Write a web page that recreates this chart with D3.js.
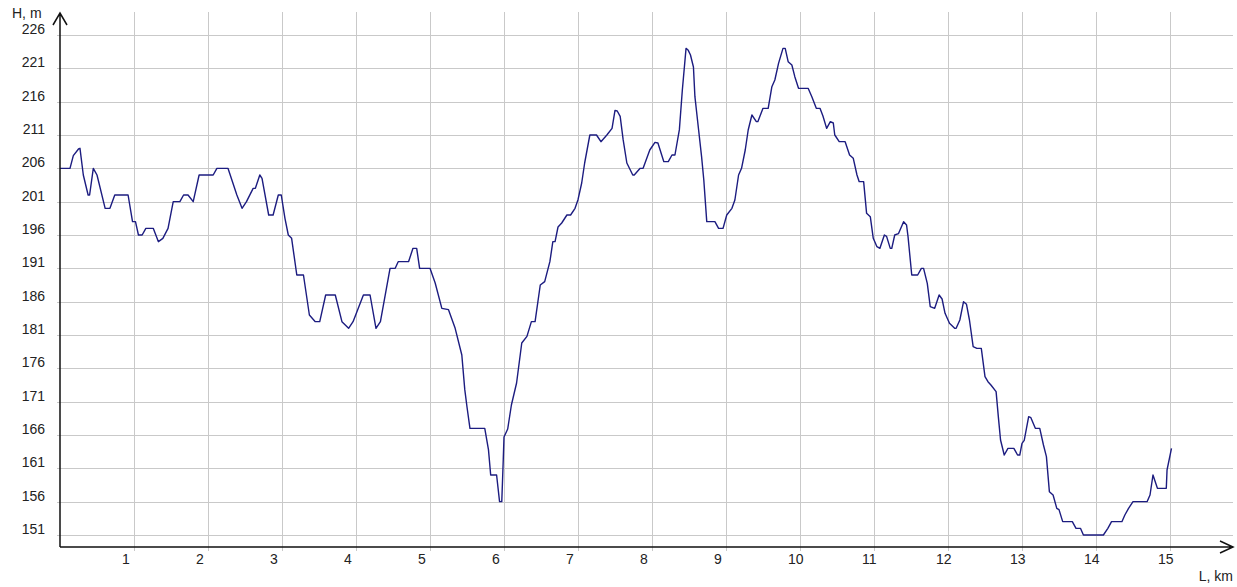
<!DOCTYPE html>
<html lang="en">
<head>
<meta charset="UTF-8">
<title>Elevation profile</title>
<script src="https://cdn.jsdelivr.net/npm/d3@7"></script>
<style>
    body { margin: 0; background: #fff; }
    text { font-family: "Liberation Sans", Arial, sans-serif; font-size: 14px; fill: #222; }
</style>
</head>
<body>
<script>
    // profile: distance (km) and height (m)
    const distKm = [
        0, 0.135, 0.18, 0.25, 0.27, 0.315, 0.38, 0.4, 0.45, 0.5, 0.61, 0.675, 0.74, 0.92, 0.98, 1.02, 1.06, 1.11,
        1.16, 1.26, 1.33, 1.39, 1.46, 1.53, 1.62, 1.67, 1.73, 1.8, 1.88, 2.07, 2.12, 2.27, 2.39, 2.46, 2.52, 2.61,
        2.64, 2.7, 2.73, 2.82, 2.88, 2.95, 2.99, 3.04, 3.085, 3.13, 3.2, 3.29, 3.37, 3.45, 3.51, 3.59, 3.72, 3.81,
        3.9, 3.96, 4.1, 4.19, 4.27, 4.33, 4.46, 4.53, 4.57, 4.71, 4.77, 4.82, 4.86, 5.0, 5.07, 5.16, 5.25, 5.34,
        5.43, 5.47, 5.5, 5.54, 5.74, 5.79, 5.82, 5.9, 5.94, 5.97, 5.99, 6.0, 6.05, 6.1, 6.17, 6.24, 6.31, 6.37,
        6.42, 6.49, 6.55, 6.62, 6.66, 6.69, 6.73, 6.78, 6.85, 6.9, 6.96, 7.0, 7.05, 7.09, 7.16, 7.25, 7.31, 7.39,
        7.46, 7.5, 7.53, 7.57, 7.61, 7.66, 7.74, 7.76, 7.84, 7.88, 7.97, 8.04, 8.08, 8.16, 8.22, 8.27, 8.31, 8.37,
        8.41, 8.46, 8.49, 8.52, 8.56, 8.58, 8.63, 8.67, 8.7, 8.74, 8.85, 8.9, 8.96, 9.01, 9.08, 9.12, 9.17, 9.21,
        9.26, 9.3, 9.35, 9.41, 9.43, 9.5, 9.57, 9.62, 9.66, 9.71, 9.77, 9.8, 9.84, 9.89, 9.93, 9.98, 10.11, 10.16,
        10.22, 10.27, 10.31, 10.36, 10.41, 10.45, 10.47, 10.53, 10.61, 10.67, 10.72, 10.77, 10.8, 10.86, 10.9,
        10.95, 10.99, 11.04, 11.08, 11.14, 11.17, 11.22, 11.24, 11.28, 11.33, 11.4, 11.44, 11.46, 11.51, 11.59,
        11.64, 11.67, 11.72, 11.76, 11.82, 11.88, 11.92, 11.96, 12.02, 12.09, 12.11, 12.16, 12.21, 12.25, 12.29,
        12.34, 12.39, 12.45, 12.5, 12.54, 12.58, 12.65, 12.68, 12.71, 12.76, 12.81, 12.89, 12.94, 12.97, 13.0,
        13.03, 13.09, 13.12, 13.18, 13.24, 13.29, 13.33, 13.37, 13.42, 13.47, 13.5, 13.55, 13.68, 13.73, 13.79,
        13.83, 14.1, 14.16, 14.21, 14.35, 14.39, 14.44, 14.5, 14.69, 14.73, 14.77, 14.83, 14.95, 14.96, 15.02
    ];
    const heightM = [
        206, 206, 207.9, 208.9, 209, 205, 202, 202, 206, 205, 200, 200, 202, 202, 198, 198, 196, 196,
        197, 197, 195, 195.5, 197, 201, 201, 202, 202, 201, 205, 205, 206, 206, 202, 200, 201, 203,
        203, 205, 204.5, 199, 199, 202, 202, 198.5, 196, 195.5, 190, 190, 184, 183, 183, 187, 187, 183,
        182, 183, 187, 187, 182, 183, 191, 191, 192, 192, 194, 194, 191, 191, 188.8, 185, 184.8, 182,
        178, 172.8, 170.2, 167, 167, 163.8, 160, 160, 156, 156, 162.3, 165.7, 166.9, 170.5, 173.8, 179.8, 180.8, 183,
        183, 188.5, 189, 192, 195, 195, 197.2, 197.8, 199, 199, 200, 201.3, 203.8, 206.8, 211, 211, 210, 211,
        212, 214.7, 214.6, 213.8, 210.3, 206.8, 205, 205, 206, 206, 208.75, 209.9, 209.8, 207, 207, 208, 208, 211.8,
        217.75, 224, 223.7, 223, 221.2, 216.75, 211.75, 207.75, 204.25, 198, 198, 197, 197, 199, 200, 201.25, 205, 206,
        208.75, 211.75, 214, 213, 213, 215, 215, 218.25, 219.25, 221.75, 224, 224, 222, 221.5, 219.75, 218, 218, 216.75,
        215, 215, 213.85, 212, 213, 212.8, 211, 210, 210, 208, 207.5, 205, 204, 204, 199.25,
        198.75, 195.5, 194.25, 194, 196, 195.8, 194, 194, 196, 196.2, 198, 197.5, 195.75, 190, 190,
        191, 191, 188.75, 185.25, 185, 187, 186.4, 184.25, 182.75, 182, 182, 183.25, 186, 185.6, 183.25,
        179.25, 179, 179, 174.75, 174, 173.5, 172.5, 168.75, 165.25, 163, 164, 164, 163, 163, 164.75,
        165.2, 168.75, 168.6, 167, 167, 164.5, 162.75, 157.5, 157, 155, 154.8, 153, 153, 152, 152,
        151, 151, 152, 153, 153, 154, 155, 156, 156, 157, 160, 158, 158, 160.75, 164
    ];
    const xTicks = [1, 2, 3, 4, 5, 6, 7, 8, 9, 10, 11, 12, 13, 14, 15];
    const yTicks = [151, 156, 161, 166, 171, 176, 181, 186, 191, 196, 201, 206, 211, 216, 221, 226];

    const width = 1237;
    const height = 587;
    const plotLeft = 60, plotRight = 1233, plotTop = 12, plotBottom = 547;

    const x = d3.scaleLinear().domain([0, 15]).range([plotLeft, 1170]);
    const y = d3.scaleLinear().domain([149.2, 226]).range([plotBottom, 35]);

    const svg = d3.select("body")
        .append("svg")
        .attr("width", width)
        .attr("height", height)
        .style("display", "block");

    // horizontal grid, with a little stub left of the axis
    svg.append("g")
        .attr("transform", `translate(${plotLeft - 3}, 0)`)
        .call(d3.axisLeft(y).tickValues(yTicks).tickSize(-(plotRight - plotLeft + 3)).tickFormat(""))
        .call(g => g.select(".domain").remove())
        .call(g => g.selectAll("line").attr("stroke", "#c9c9c9").attr("shape-rendering", "crispEdges"));

    // vertical grid, running a bit below the x axis
    svg.append("g")
        .attr("transform", `translate(0, ${plotBottom + 4})`)
        .call(d3.axisBottom(x).tickValues(xTicks).tickSize(-(plotBottom + 4 - plotTop)).tickFormat(""))
        .call(g => g.select(".domain").remove())
        .call(g => g.selectAll("line").attr("stroke", "#c9c9c9").attr("shape-rendering", "crispEdges"));

    // tick labels
    svg.append("g")
        .selectAll("text")
        .data(yTicks)
        .enter()
        .append("text")
        .attr("x", 45)
        .attr("y", d => y(d) - 1)
        .attr("text-anchor", "end")
        .text(d => d);

    svg.append("g")
        .selectAll("text")
        .data(xTicks)
        .enter()
        .append("text")
        .attr("x", d => x(d) - 12)
        .attr("y", 564)
        .text(d => d);

    // elevation line
    const line = d3.line()
        .x((d, i) => x(distKm[i]))
        .y(d => y(d));

    svg.append("path")
        .datum(heightM)
        .attr("fill", "none")
        .attr("stroke", "#1c1c80")
        .attr("stroke-width", 1.4)
        .attr("stroke-linejoin", "round")
        .attr("d", line);

    // axes with open arrow heads
    const axisStroke = g => g.attr("stroke", "#111").attr("stroke-width", 1.5).attr("fill", "none");

    svg.append("path")
        .call(axisStroke)
        .attr("d", `M${plotLeft},${plotBottom}V${plotTop + 1}M${plotLeft - 7},${plotTop + 13}L${plotLeft},${plotTop + 1}L${plotLeft + 7},${plotTop + 13}`);

    svg.append("path")
        .call(axisStroke)
        .attr("d", `M${plotLeft},${plotBottom}H${plotRight}M${plotRight - 13},${plotBottom - 6}L${plotRight},${plotBottom}L${plotRight - 13},${plotBottom + 6}`);

    svg.append("text")
        .attr("x", 12)
        .attr("y", 18)
        .text("H, m");

    svg.append("text")
        .attr("x", plotRight)
        .attr("y", 581)
        .attr("text-anchor", "end")
        .text("L, km");
</script>
</body>
</html>
